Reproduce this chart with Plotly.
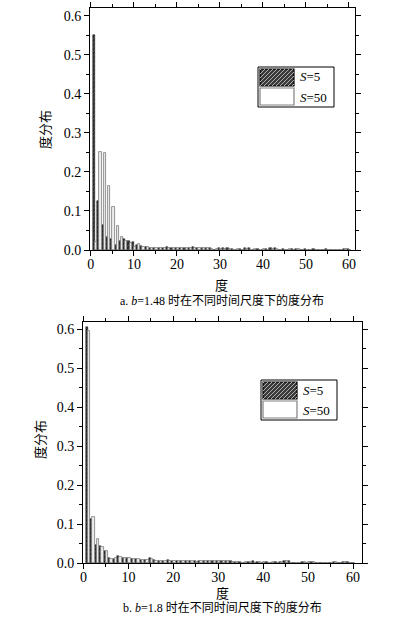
import plotly.graph_objects as go

degrees = list(range(1, 61))

# b = 1.48
a_s5 = [0.55, 0.125, 0.065, 0.033, 0.027, 0.014, 0.022, 0.027, 0.022, 0.021,
        0.012, 0.009, 0.008, 0.005, 0.005, 0.004, 0.005, 0.007, 0.005, 0.004,
        0.006, 0.006, 0.005, 0.007, 0.006, 0.006, 0.006, 0.005, 0.0, 0.004,
        0.005, 0.004, 0.003, 0.0, 0.003, 0.005, 0.004, 0.0, 0.003, 0.0,
        0.003, 0.005, 0.004, 0.0, 0.002, 0.0, 0.003, 0.003, 0.0, 0.002,
        0.0, 0.003, 0.0, 0.0, 0.002, 0.0, 0.0, 0.0, 0.003, 0.002]
a_s50 = [0.02, 0.25, 0.248, 0.163, 0.11, 0.062, 0.033, 0.022, 0.018, 0.008,
         0.016, 0.008, 0.007, 0.005, 0.004, 0.005, 0.004, 0.005, 0.004, 0.005,
         0.005, 0.005, 0.004, 0.005, 0.004, 0.004, 0.005, 0.003, 0.002, 0.003,
         0.003, 0.003, 0.0, 0.002, 0.0, 0.002, 0.0, 0.002, 0.0, 0.002,
         0.0, 0.003, 0.002, 0.0, 0.0, 0.002, 0.0, 0.002, 0.0, 0.0,
         0.0, 0.0, 0.0, 0.0, 0.0, 0.0, 0.0, 0.0, 0.002, 0.0]

# b = 1.8
b_s5 = [0.605, 0.113, 0.045, 0.043, 0.03, 0.013, 0.01, 0.018, 0.012, 0.013,
        0.01, 0.009, 0.008, 0.007, 0.012, 0.007, 0.006, 0.006, 0.007, 0.006,
        0.006, 0.006, 0.005, 0.005, 0.004, 0.005, 0.005, 0.005, 0.004, 0.005,
        0.005, 0.004, 0.004, 0.003, 0.003, 0.0, 0.003, 0.004, 0.003, 0.0,
        0.003, 0.0, 0.003, 0.003, 0.004, 0.004, 0.0, 0.0, 0.003, 0.0,
        0.003, 0.0, 0.0, 0.0, 0.0, 0.002, 0.0, 0.003, 0.002, 0.0]
b_s50 = [0.595, 0.118, 0.062, 0.04, 0.03, 0.01, 0.012, 0.015, 0.013, 0.012,
         0.009, 0.01, 0.007, 0.008, 0.01, 0.006, 0.006, 0.006, 0.006, 0.005,
         0.006, 0.005, 0.005, 0.004, 0.003, 0.004, 0.004, 0.004, 0.005, 0.004,
         0.004, 0.004, 0.003, 0.003, 0.0, 0.003, 0.003, 0.0, 0.003, 0.002,
         0.0, 0.003, 0.0, 0.003, 0.004, 0.0, 0.0, 0.0, 0.002, 0.002,
         0.003, 0.0, 0.0, 0.0, 0.0, 0.002, 0.0, 0.002, 0.0, 0.0]

x_ticks = [0, 10, 20, 30, 40, 50, 60]
y_ticks = [0.0, 0.1, 0.2, 0.3, 0.4, 0.5, 0.6]

W, H = 411, 617
def px(x): return x / W
def py(y): return 1 - y / H

serif = "Liberation Serif, Noto Sans CJK SC, serif"
cjk = "Liberation Serif, Noto Sans CJK SC, serif"

s5_style = dict(color="#262626", line=dict(color="#111111", width=0.5),
                pattern=dict(shape="/", fgcolor="#8a8a8a", size=3, solidity=0.3))
s50_style = dict(color="#eeeeee", line=dict(color="#7a7a7a", width=0.8))

fig = go.Figure()
fig.add_trace(go.Bar(x=degrees, y=a_s5, name="S=5", marker=s5_style,
                     xaxis="x", yaxis="y", showlegend=False))
fig.add_trace(go.Bar(x=degrees, y=a_s50, name="S=50", marker=s50_style,
                     xaxis="x", yaxis="y", showlegend=False))
fig.add_trace(go.Bar(x=degrees, y=b_s5, name="S=5", marker=s5_style,
                     xaxis="x2", yaxis="y2", showlegend=False))
fig.add_trace(go.Bar(x=degrees, y=b_s50, name="S=50", marker=s50_style,
                     xaxis="x2", yaxis="y2", showlegend=False))

axis_common = dict(showline=True, linecolor="black", linewidth=1, mirror="allticks",
                   ticks="outside", ticklen=5, tickwidth=1, tickcolor="black",
                   showgrid=False, zeroline=False, automargin=False,
                   tickfont=dict(family=serif, size=14, color="black"))

fig.update_layout(
    width=W, height=H, margin=dict(l=0, r=0, t=0, b=0, pad=0, autoexpand=False),
    paper_bgcolor="white", plot_bgcolor="white",
    barmode="group", bargap=0.0, bargroupgap=0.0,
    xaxis=dict(domain=[px(90), px(355)], range=[-0.2, 61.4], anchor="y",
               tickvals=x_ticks, minor=dict(dtick=5), ticklabelstandoff=-4, **axis_common),
    yaxis=dict(domain=[py(250), py(8)], range=[0, 0.62], anchor="x",
               tickvals=y_ticks, tickformat=".1f", minor=dict(dtick=0.05), **axis_common),
    xaxis2=dict(domain=[px(83), px(362)], range=[-0.1, 62], anchor="y2",
                tickvals=x_ticks, minor=dict(dtick=5), ticklabelstandoff=-4, **axis_common),
    yaxis2=dict(domain=[py(563), py(322)], range=[0, 0.618], anchor="x2",
                tickvals=y_ticks, tickformat=".1f", minor=dict(dtick=0.05), **axis_common),
)
for ax in ["xaxis", "yaxis", "xaxis2", "yaxis2"]:
    fig.layout[ax].minor.ticks = "outside"
    fig.layout[ax].minor.ticklen = 3
    fig.layout[ax].minor.tickcolor = "black"

annotations = [
    dict(text="度分布", x=px(46), y=py(130), textangle=-90, font=dict(family=cjk, size=13)),
    dict(text="度", x=px(221), y=py(285), font=dict(family=cjk, size=13)),
    dict(text="a. <i>b</i>=1.48 时在不同时间尺度下的度分布", x=px(222), y=py(300), font=dict(family=cjk, size=12)),
    dict(text="度分布", x=px(40), y=py(440), textangle=-90, font=dict(family=cjk, size=13)),
    dict(text="度", x=px(222), y=py(593), font=dict(family=cjk, size=13)),
    dict(text="b. <i>b</i>=1.8 时在不同时间尺度下的度分布", x=px(222), y=py(607), font=dict(family=cjk, size=12)),
]

shapes = []
def add_legend(x0, y0):
    shapes.append(dict(type="rect", xref="paper", yref="paper",
                       x0=px(x0), x1=px(x0 + 76), y0=py(y0 + 40), y1=py(y0),
                       line=dict(color="black", width=1), fillcolor="white"))
    sx0, sx1, sy0, sy1 = x0 + 2, x0 + 36, y0 + 2, y0 + 19
    shapes.append(dict(type="rect", xref="paper", yref="paper",
                       x0=px(sx0), x1=px(sx1), y0=py(sy1), y1=py(sy0),
                       line=dict(color="black", width=1.2), fillcolor="#3a3a3a"))
    path = ""
    for k in range(-16, 34, 4):
        xa, xb = sx0 + k, sx0 + k + (sy1 - sy0)
        ya, yb = sy1, sy0
        if xa < sx0:
            ya = sy1 - (sx0 - xa); xa = sx0
        if xb > sx1:
            yb = sy0 + (xb - sx1); xb = sx1
        if xa < xb:
            path += f"M{px(xa)},{py(ya)} L{px(xb)},{py(yb)} "
    shapes.append(dict(type="path", xref="paper", yref="paper", path=path,
                       line=dict(color="#b0b0b0", width=1)))
    shapes.append(dict(type="rect", xref="paper", yref="paper",
                       x0=px(sx0), x1=px(sx1), y0=py(y0 + 38), y1=py(y0 + 21),
                       line=dict(color="#808080", width=1.2), fillcolor="white"))
    annotations.append(dict(text="<i>S</i>=5", x=px(x0 + 40), y=py(y0 + 10), xanchor="left",
                            font=dict(family=serif, size=13)))
    annotations.append(dict(text="<i>S</i>=50", x=px(x0 + 40), y=py(y0 + 30), xanchor="left",
                            font=dict(family=serif, size=13)))

add_legend(258, 67)
add_legend(261, 380)

for a in annotations:
    a.setdefault("xref", "paper"); a.setdefault("yref", "paper")
    a.setdefault("xanchor", "center"); a.setdefault("yanchor", "middle")
    a.setdefault("showarrow", False)
    a["font"].setdefault("color", "black")
fig.update_layout(annotations=annotations, shapes=shapes)

fig.write_html("out.html", config={"displayModeBar": False},
               post_script="document.body.style.margin='0';")
